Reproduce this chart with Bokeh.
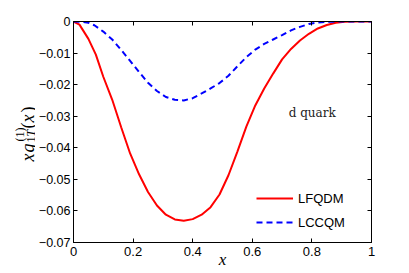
from math import pi
from bokeh.plotting import figure
from bokeh.layouts import row
from bokeh.models import Range1d, FixedTicker, LinearAxis, Label, Legend, LegendItem
from bokeh.core.properties import value
from bokeh.embed import file_html
from bokeh.resources import INLINE

# ---- data ----
lfqdm_x = [0.0, 0.02, 0.05, 0.075, 0.10, 0.13, 0.16, 0.19, 0.22, 0.25, 0.28, 0.31, 0.34, 0.37,
           0.40, 0.43, 0.46, 0.49, 0.52, 0.55, 0.58, 0.61, 0.64, 0.67, 0.70, 0.73, 0.76, 0.79,
           0.82, 0.85, 0.88, 0.91, 0.95, 1.0]
lfqdm_y = [0.0, -0.0010, -0.0055, -0.0105, -0.0175, -0.0248, -0.0335, -0.0418, -0.0484, -0.0540,
           -0.0583, -0.0612, -0.0627, -0.0631, -0.0626, -0.0612, -0.0588, -0.0548, -0.0487, -0.0412,
           -0.0333, -0.0266, -0.0212, -0.0165, -0.0120, -0.0087, -0.0060, -0.0039, -0.0022, -0.0011,
           -0.0004, -0.0001, 0.0, 0.0]
lccqm_x = [0.0, 0.03, 0.05, 0.07, 0.10, 0.13, 0.16, 0.19, 0.22, 0.25, 0.28, 0.31, 0.34, 0.37,
           0.40, 0.43, 0.46, 0.49, 0.52, 0.55, 0.58, 0.61, 0.64, 0.67, 0.70, 0.73, 0.76, 0.79,
           0.82, 0.86, 0.90, 1.0]
lccqm_y = [0.0, -0.0001, -0.0004, -0.0012, -0.0032, -0.0057, -0.0090, -0.0125, -0.0160, -0.0194,
           -0.0220, -0.0239, -0.0248, -0.0250, -0.0243, -0.0228, -0.0212, -0.0195, -0.0172, -0.0142,
           -0.0113, -0.0089, -0.0071, -0.0057, -0.0043, -0.0028, -0.0017, -0.0008, -0.0003, -0.0001,
           0.0, 0.0]
x_ticks = [0, 0.2, 0.4, 0.6, 0.8, 1]
x_tick_labels = ["0", "0.2", "0.4", "0.6", "0.8", "1"]
y_ticks = [0, -0.01, -0.02, -0.03, -0.04, -0.05, -0.06, -0.07]
y_tick_labels = ["0", "\u22120.01", "\u22120.02", "\u22120.03", "\u22120.04", "\u22120.05",
                 "\u22120.06", "\u22120.07"]
series_names = ["LFQDM", "LCCQM"]
annotation_text = "d quark"
x_title = "x"
# y title pieces: x g _{1T} ^{(1)} (x)
y_title_main = ["x", "g"]
y_title_sub = ["1", "T"]
y_title_sup = ["(1)"]
y_title_arg = ["(", "x", ")"]

TOTAL_H = 273
LEFT_W = 35
FRAME_TOP = 21
FRAME_BOTTOM = 242

p = figure(width=401 - LEFT_W, height=TOTAL_H, output_backend="svg", toolbar_location=None,
           x_range=Range1d(0, 1), y_range=Range1d(-0.07, 0),
           min_border_left=72 - LEFT_W, min_border_right=30,
           min_border_top=FRAME_TOP, min_border_bottom=TOTAL_H - FRAME_BOTTOM)
p.grid.visible = False
p.outline_line_color = "black"

tick_font = "Liberation Sans"
for ax, ticks, labels in ((p.xaxis[0], x_ticks, x_tick_labels), (p.yaxis[0], y_ticks, y_tick_labels)):
    ax.ticker = FixedTicker(ticks=ticks)
    ax.major_label_overrides = {t: l for t, l in zip(ticks, labels)}
    ax.major_tick_in = 4
    ax.major_tick_out = 0
    ax.minor_tick_line_color = None
    ax.axis_line_color = "black"
    ax.major_tick_line_color = "black"
    ax.major_label_text_font = tick_font
    ax.major_label_text_color = "black"
p.xaxis.major_label_text_font_size = "13px"
p.yaxis.major_label_text_font_size = "12.5px"
p.xaxis.major_label_standoff = 4
p.yaxis.major_label_standoff = 3

p.xaxis.axis_label = x_title
p.xaxis.axis_label_text_font = "Liberation Serif"
p.xaxis.axis_label_text_font_style = "italic"
p.xaxis.axis_label_text_font_size = "17px"
p.xaxis.axis_label_text_color = "black"
p.xaxis.axis_label_standoff = -9

for loc, ticks in (("right", y_ticks), ("above", x_ticks)):
    ax = LinearAxis(ticker=FixedTicker(ticks=ticks), major_tick_in=4, major_tick_out=0,
                    minor_tick_line_color=None, axis_line_color="black",
                    major_label_overrides={t: "" for t in ticks},
                    major_label_text_font_size="0px", major_label_standoff=0)
    p.add_layout(ax, loc)

r1 = p.line(lfqdm_x, lfqdm_y, line_color="#ff0000", line_width=2)
r2 = p.line(lccqm_x, lccqm_y, line_color="#0000ff", line_width=2, line_dash="6 4")

legend = Legend(items=[LegendItem(label=series_names[0], renderers=[r1]),
                       LegendItem(label=series_names[1], renderers=[r2])],
                location=(183, 10), border_line_color=None, background_fill_alpha=0,
                padding=0, margin=0, spacing=4, glyph_width=37, glyph_height=20,
                label_height=20, label_standoff=5, label_text_font="Liberation Sans",
                label_text_font_size="13px", label_text_color="black")
p.add_layout(legend)

p.add_layout(Label(x=0.722, y=-0.0291, text=annotation_text, text_font="DejaVu Serif",
                   text_font_size="12px", text_baseline="middle", text_color="#222222"))

# ---- narrow panel holding the composed y-axis title (1 unit = 1 px, y = TOTAL_H - page y) ----
yt = figure(width=LEFT_W, height=TOTAL_H, output_backend="svg", toolbar_location=None,
            x_range=Range1d(0, LEFT_W),
            y_range=Range1d(TOTAL_H - FRAME_BOTTOM, TOTAL_H - FRAME_TOP),
            x_axis_type=None, y_axis_type=None,
            min_border_left=0, min_border_right=0,
            min_border_top=FRAME_TOP, min_border_bottom=TOTAL_H - FRAME_BOTTOM)
yt.grid.visible = False
yt.outline_line_color = None
yt.title.visible = False

serif = "Liberation Serif"
def ytext(texts, bases, starts, size, style):
    yt.text(x=bases, y=[TOTAL_H - s for s in starts], text=texts, angle=pi / 2,
            text_font=value(serif), text_font_size=value(size), text_font_style=style,
            text_align="left", text_baseline="alphabetic", text_color="black")

ytext(y_title_main, [27, 27], [161, 152], "18px", "italic")
ytext(y_title_sub[:1], [30], [142], "12px", "normal")
ytext(y_title_sub[1:], [30], [136], "12px", "italic")
ytext(y_title_sup, [19], [141], "12px", "normal")
ytext([y_title_arg[0], y_title_arg[2]], [27, 27], [128, 112], "18px", "normal")
ytext(y_title_arg[1:2], [27], [122], "18px", "italic")

layout = row(yt, p, spacing=0)
open("out.html", "w").write(file_html(layout, INLINE))
